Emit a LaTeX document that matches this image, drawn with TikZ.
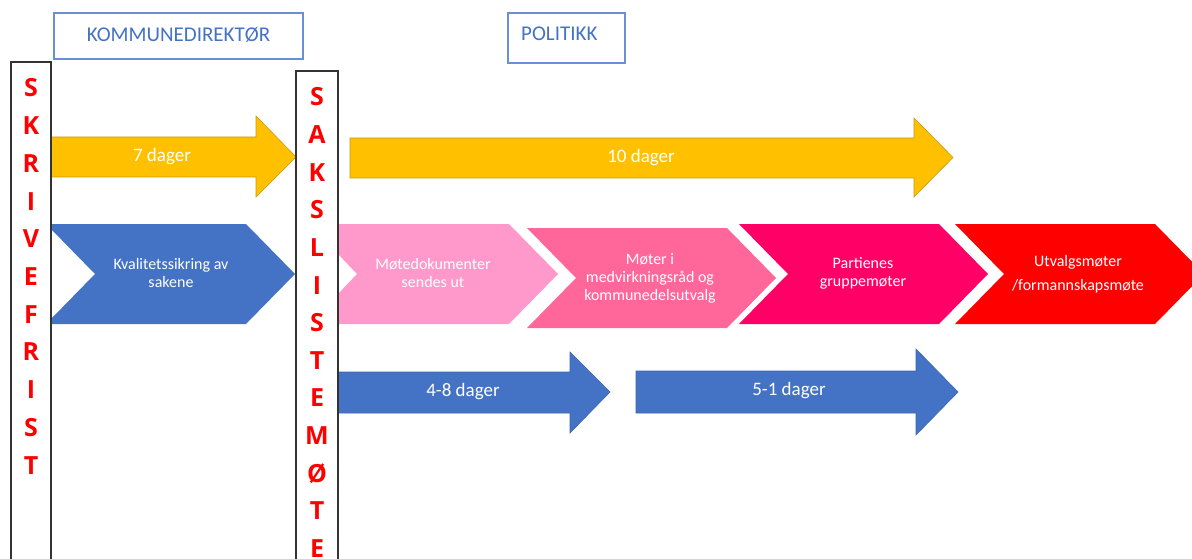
\documentclass[tikz,border=0pt]{standalone}
\usepackage{fontspec}
\setmainfont{Carlito}
\newfontfamily\vletterfont{Open Sans}
\definecolor{ylw}{HTML}{FFC000}
\definecolor{ylwline}{HTML}{C99A10}
\definecolor{blu}{HTML}{4472C4}
\definecolor{bluline}{HTML}{3B66B5}
\definecolor{hdrline}{HTML}{6A8FD6}
\definecolor{pinkA}{HTML}{FF99CC}
\definecolor{pinkB}{HTML}{FF6699}
\definecolor{pinkC}{HTML}{FF0066}
\definecolor{redD}{HTML}{FF0000}
\definecolor{boxline}{HTML}{333333}
\begin{document}
\begin{tikzpicture}[x=1pt,y=-1pt,
  hdrbox/.style={draw=hdrline,line width=1.3pt,inner sep=0pt},
  hdrtxt/.style={text=blu,font=\fontsize{21}{24}\selectfont,inner sep=0pt},
  vbox/.style={draw=boxline,line width=1.4pt},
  vletter/.style={text=redD,font=\vletterfont\bfseries\fontsize{25}{30}\selectfont,inner sep=0pt,text height=18pt,text depth=0pt},
  yarrow/.style={fill=ylw,draw=ylwline,line width=0.6pt},
  barrow/.style={fill=blu,draw=bluline,line width=0.6pt},
  daytxt/.style={text=white,font=\fontsize{19}{22}\selectfont,inner sep=0pt},
  chevtxt/.style={text=white,font=\fontsize{16}{18}\selectfont,align=center,inner sep=0pt}
]
\clip (0,0) rectangle (1192,559);
\fill[white] (0,0) rectangle (1192,559);

% header boxes
\node[hdrbox,minimum width=249pt,minimum height=46pt] (kdbox) at (178.5,36) {};
\node[hdrtxt] (kdtxt) at (178.5,35) {KOMMUNEDIREKTØR};
\node[hdrbox,minimum width=117pt,minimum height=50pt] (polbox) at (566.5,38) {};
\node[hdrtxt,anchor=west] (poltxt) at (521,34) {POLITIKK};

% yellow arrows
\filldraw[yarrow] (51,137) -- (256,137) -- (256,116) -- (296,157) -- (256,197) -- (256,177) -- (51,177) -- cycle;
\node[daytxt] (y7) at (162,157) {7 dager};
\filldraw[yarrow] (350,138) -- (914,138) -- (914,118) -- (953,157.5) -- (914,197) -- (914,178) -- (350,178) -- cycle;
\node[daytxt] (y10) at (641,158) {10 dager};

% chevrons
\fill[blu] (51,224) -- (246,224) -- (295,274) -- (246,324) -- (51,324) -- (51,319) -- (95,274) -- (51,229) -- cycle;
\node[chevtxt] (c0) at (171,273) {Kvalitetssikring av\\sakene};
\fill[pinkA] (338,224) -- (509,224) -- (558,274) -- (509,324) -- (338,324) -- (338,294) -- (357,274) -- (338,254) -- cycle;
\node[chevtxt] (c1) at (433,273) {Møtedokumenter\\sendes ut};
\fill[pinkB] (527,228) -- (727,228) -- (776,278) -- (727,328) -- (527,328) -- (576,278) -- cycle;
\node[chevtxt] (c2) at (650,278) {Møter i\\medvirkningsråd og\\kommunedelsutvalg};
\fill[pinkC] (739,224) -- (939,224) -- (988,274) -- (939,324) -- (739,324) -- (788,274) -- cycle;
\node[chevtxt] (c3) at (863,273) {Partienes\\gruppemøter};
\fill[redD] (955,224) -- (1155,224) -- (1204,274) -- (1155,324) -- (955,324) -- (1004,274) -- cycle;
\node[chevtxt,font=\fontsize{16}{24}\selectfont] (c4) at (1078,274) {Utvalgsmøter\\/formannskapsmøte};

% blue arrows
\filldraw[barrow] (338,372) -- (570,372) -- (570,352) -- (610,392) -- (570,433) -- (570,413) -- (338,413) -- cycle;
\node[daytxt] (b48) at (463,392) {4-8 dager};
\filldraw[barrow] (636,371) -- (916,371) -- (916,349) -- (958,392) -- (916,435) -- (916,413) -- (636,413) -- cycle;
\node[daytxt] (b51) at (789,391) {5-1 dager};

% vertical boxes
\draw[vbox] (11,560) -- (11,62) -- (51,62) -- (51,560);
\draw[vbox] (296,560) -- (296,71) -- (338,71) -- (338,560);
\foreach \l [count=\i from 0] in {S,K,R,I,V,E,F,R,I,S,T}
  \node[vletter] (sk\i) at (31,{88+37.7*\i}) {\l};
\foreach \l [count=\i from 0] in {S,A,K,S,L,I,S,T,E,M,Ø,T,E}
  \node[vletter] (sa\i) at (317,{97+37.6*\i}) {\l};
\end{tikzpicture}
\end{document}
